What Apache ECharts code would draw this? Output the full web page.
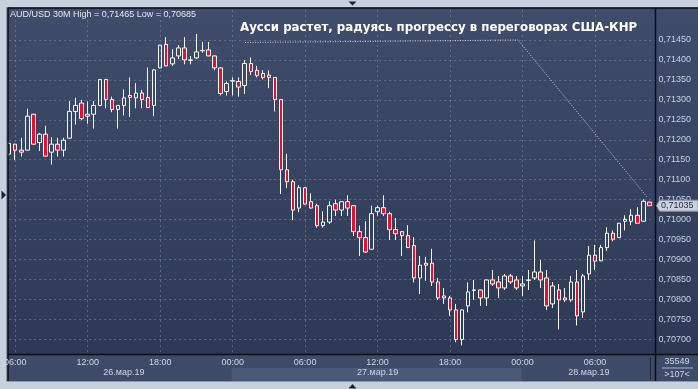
<!DOCTYPE html>
<html><head><meta charset="utf-8">
<script src="https://cdn.jsdelivr.net/npm/echarts@6/dist/echarts.min.js"></script>
<style>html,body{margin:0;padding:0;background:#c6d1dd}#c{width:698px;height:389px}</style>
</head><body><div id="c"></div>
<script>
// ---------------- data ----------------
const symbolTitle = 'AUD/USD 30M';
const annotation = 'Аусси растет, радуясь прогрессу в переговорах США-КНР';
const open = [0.71164,0.71189,0.71174,0.71174,0.71264,0.71193,0.71214,0.71169,0.71189,0.71174,
0.71204,0.71271,0.71292,0.71259,0.71264,0.71286,0.71351,0.71301,0.71276,0.71286,
0.71311,0.71305,0.71317,0.71306,0.71286,0.71380,0.71439,0.71390,0.71410,0.71430,
0.71399,0.71405,0.71423,0.71425,0.71410,0.71380,0.71321,0.71347,0.71346,0.71336,
0.71391,0.71374,0.71366,0.71362,0.71356,0.71301,0.71125,0.71095,0.71029,0.71080,
0.71045,0.71035,0.70985,0.70994,0.71040,0.71024,0.71045,0.71035,0.70970,0.70955,
0.70926,0.71020,0.71030,0.71015,0.70975,0.70970,0.70960,0.70935,0.70854,0.70891,
0.70891,0.70844,0.70809,0.70804,0.70774,0.70700,0.70784,0.70823,0.70824,0.70804,
0.70849,0.70844,0.70829,0.70859,0.70849,0.70834,0.70848,0.70854,0.70869,0.70854,
0.70789,0.70824,0.70804,0.70799,0.70844,0.70769,0.70864,0.70911,0.70897,0.70930,
0.70966,0.70955,0.70996,0.70996,0.71011,0.70996,0.71044];
const close = [0.71191,0.71174,0.71169,0.71259,0.71189,0.71214,0.71159,0.71189,0.71174,0.71199,
0.71271,0.71286,0.71253,0.71264,0.71286,0.71351,0.71301,0.71276,0.71286,0.71305,
0.71306,0.71317,0.71301,0.71281,0.71375,0.71437,0.71385,0.71405,0.71430,0.71400,
0.71400,0.71420,0.71424,0.71410,0.71380,0.71316,0.71341,0.71348,0.71332,0.71391,
0.71371,0.71361,0.71356,0.71356,0.71301,0.71125,0.71095,0.71024,0.71080,0.71039,
0.71029,0.70985,0.70994,0.71035,0.71024,0.71045,0.71029,0.70970,0.70955,0.70919,
0.71015,0.71030,0.71015,0.70975,0.70965,0.70960,0.70930,0.70854,0.70886,0.70886,
0.70844,0.70804,0.70804,0.70774,0.70700,0.70774,0.70819,0.70824,0.70804,0.70849,
0.70839,0.70829,0.70859,0.70844,0.70829,0.70839,0.70849,0.70869,0.70849,0.70784,
0.70834,0.70799,0.70799,0.70844,0.70759,0.70859,0.70911,0.70896,0.70930,0.70966,
0.70951,0.70991,0.71001,0.71011,0.70991,0.71046,0.71035];
const low = [0.71160,0.71149,0.71158,0.71172,0.71188,0.71172,0.71158,0.71138,0.71158,0.71158,
0.71203,0.71238,0.71249,0.71240,0.71228,0.71285,0.71279,0.71269,0.71228,0.71261,
0.71257,0.71279,0.71279,0.71279,0.71259,0.71379,0.71384,0.71385,0.71402,0.71389,
0.71389,0.71402,0.71418,0.71409,0.71374,0.71311,0.71311,0.71311,0.71308,0.71315,
0.71362,0.71356,0.71351,0.71329,0.71271,0.71064,0.71079,0.70999,0.71019,0.71038,
0.71028,0.70980,0.70980,0.70989,0.71009,0.71009,0.71009,0.70959,0.70909,0.70917,
0.70925,0.71010,0.71009,0.70949,0.70949,0.70909,0.70929,0.70843,0.70814,0.70847,
0.70834,0.70799,0.70789,0.70759,0.70693,0.70685,0.70768,0.70799,0.70784,0.70784,
0.70834,0.70804,0.70824,0.70839,0.70824,0.70809,0.70824,0.70849,0.70829,0.70774,
0.70779,0.70725,0.70794,0.70794,0.70735,0.70754,0.70849,0.70874,0.70896,0.70922,
0.70946,0.70954,0.70973,0.70986,0.70990,0.70995,0.71034];
const high = [0.71195,0.71190,0.71205,0.71278,0.71265,0.71217,0.71235,0.71206,0.71205,0.71205,
0.71297,0.71305,0.71300,0.71296,0.71297,0.71352,0.71352,0.71308,0.71287,0.71326,
0.71356,0.71342,0.71325,0.71381,0.71376,0.71438,0.71457,0.71427,0.71437,0.71457,
0.71410,0.71465,0.71445,0.71445,0.71411,0.71381,0.71346,0.71356,0.71356,0.71400,
0.71406,0.71385,0.71374,0.71374,0.71357,0.71302,0.71165,0.71100,0.71086,0.71081,
0.71066,0.71040,0.71021,0.71046,0.71050,0.71046,0.71061,0.71036,0.70985,0.70996,
0.71035,0.71035,0.71061,0.71020,0.71004,0.70971,0.70986,0.70956,0.70909,0.70907,
0.70927,0.70854,0.70829,0.70809,0.70789,0.70775,0.70843,0.70849,0.70825,0.70850,
0.70874,0.70859,0.70864,0.70864,0.70859,0.70859,0.70874,0.70948,0.70899,0.70874,
0.70844,0.70839,0.70829,0.70859,0.70874,0.70864,0.70934,0.70937,0.70937,0.70981,
0.70973,0.70992,0.71011,0.71026,0.71031,0.71051,0.71045];
const timeTickHours = ['00:00','06:00','12:00','18:00'];
const dateLabels = {'26 15:00':'26.мар.19','27 12:00':'27.мар.19','28 05:30':'28.мар.19'};
const highlightDay = {from:'27 00:00', to:'28 00:00'};
const cornerCount = '35549';
const yMin = 0.7065, yMax = 0.7155, yStep = 0.0005;
const yLabelMin = 0.70700, yLabelMax = 0.71450;

// categories: 30-minute bars from 26 Mar 05:30 (one spare slot at the end)
const categories = [];
for (let k = 0; k < open.length + 1; k++) {
  const t = 5*60 + 30 + k*30;
  const d = 26 + Math.floor(t/1440), m = t % 1440;
  categories.push(d + ' ' + String(Math.floor(m/60)).padStart(2,'0') + ':' + String(m%60).padStart(2,'0'));
}
const ohlc = open.map((o,i) => [o, close[i], low[i], high[i]]);
const fmt = v => v.toFixed(5).replace('.', ',');
const FONT = '"Liberation Sans", Arial, sans-serif';

// split line colours (hide lines outside the labelled range)
const nTicks = Math.round((yMax - yMin)/yStep) + 1;
const gridColor = 'rgba(125,140,170,0.55)';
const yLineColors = [];
for (let k = 0; k < nTicks; k++) {
  const v = yMin + k*yStep;
  yLineColors.push(v >= yLabelMin - 1e-6 && v <= yLabelMax + 1e-6 ? gridColor : 'rgba(0,0,0,0)');
}
const isTimeTick = (i, v) => timeTickHours.indexOf(String(v).slice(3)) >= 0;

const chart = echarts.init(document.getElementById('c'), null, {renderer:'canvas'});
const gridTop = 37.3 - (yMax - yLabelMax)/yStep*20.133;
const gridBottomY = 339.3 + (yLabelMin - yMin)/yStep*20.133;
chart.setOption({
  animation: false,
  backgroundColor: new echarts.graphic.LinearGradient(0,0,0,1,[{offset:0,color:'#404d6b'},{offset:1,color:'#2b3752'}]),
  grid: {left: 9.2, right: 42.6, top: gridTop, bottom: 389 - gridBottomY, containLabel: false},
  xAxis: [
    {type:'category', data: categories, boundaryGap:false, z:0,
     axisLine:{show:false}, axisTick:{show:false}, axisLabel:{show:false},
     splitLine:{show:true, interval:isTimeTick, lineStyle:{color:gridColor, type:[2,3], width:1}}},
    {type:'category', data: categories, boundaryGap:false, position:'bottom', offset:-5, z:60,
     axisLine:{show:false}, axisTick:{show:false}, splitLine:{show:false},
     axisLabel:{show:true, interval:isTimeTick, margin:3.5, fontSize:9, fontFamily:FONT, color:'#ccd6e6',
       formatter: v => String(v).slice(3)}},
    {type:'category', data: categories, boundaryGap:false, position:'bottom', offset:-5, z:60,
     axisLine:{show:false}, axisTick:{show:false}, splitLine:{show:false},
     axisLabel:{show:true, interval:(i,v) => v in dateLabels, margin:13.5, fontSize:9, fontFamily:FONT, color:'#ccd6e6',
       formatter: v => dateLabels[v] || ''}}
  ],
  yAxis: [{type:'value', position:'right', min:yMin, max:yMax, interval:yStep, scale:true, z:0,
    axisLine:{show:false}, axisTick:{show:false},
    axisLabel:{margin:3, fontSize:9, fontFamily:FONT, color:'#c5d1e3',
      formatter: v => (v < yLabelMin - 1e-6 || v > yLabelMax + 1e-6) ? '' : fmt(v)},
    splitLine:{show:true, lineStyle:{color:yLineColors, type:[2,3], width:1}}}],
  series: [{type:'candlestick', xAxisIndex:0, yAxisIndex:0, data: ohlc, barWidth:4,
    itemStyle:{color:'rgba(0,0,0,0)', color0:'#e3112e', borderColor:'#f4f6f8', borderColor0:'#f4f6f8', borderWidth:1}}]
});

// ---------- chrome drawn around the plot ----------
const W = 698, H = 389;
const frame = '#c6d1dd', line = '#0b0e16';
const xDayFrom = chart.convertToPixel({xAxisIndex:0}, highlightDay.from) - 1;
const xDayTo = chart.convertToPixel({xAxisIndex:0}, highlightDay.to) - 1;
const lastClose = close[close.length - 1];
const yLast = chart.convertToPixel({yAxisIndex:0}, lastClose);
const hi = Math.max.apply(null, high), lo = Math.min.apply(null, low);
const g = [];
const Z = 50;
// bottom axis band
g.push({type:'rect', z:Z, shape:{x:8, y:354, width:W-8, height:27}, style:{fill:'#3e4b68'}});
g.push({type:'rect', z:Z, shape:{x:xDayFrom, y:368, width:xDayTo-xDayFrom, height:13}, style:{fill:'#4b5979'}});
g.push({type:'line', z:Z, shape:{x1:650.5, y1:357, x2:650.5, y2:380}, style:{stroke:'#232a3b', lineWidth:1}});
// frames
g.push({type:'rect', z:Z, shape:{x:0, y:0, width:W, height:7.5}, style:{fill:frame}});
g.push({type:'rect', z:Z, shape:{x:0, y:0, width:7.5, height:H}, style:{fill:frame}});
g.push({type:'rect', z:Z, shape:{x:0, y:381, width:W, height:8}, style:{fill:frame}});
g.push({type:'line', z:Z, shape:{x1:6.5, y1:7, x2:6.5, y2:382}, style:{stroke:'#8d99aa', lineWidth:1}});
g.push({type:'line', z:Z, shape:{x1:6.5, y1:381.5, x2:W, y2:381.5}, style:{stroke:'#8d99aa', lineWidth:1}});
g.push({type:'polygon', z:Z, shape:{points:[[348.5,1.5],[356.5,1.5],[352.5,5.5]]}, style:{fill:'#1b2233'}});
g.push({type:'polygon', z:Z, shape:{points:[[348.5,388.5],[356.5,388.5],[352.5,384]]}, style:{fill:'#1b2233'}});
g.push({type:'polygon', z:Z, shape:{points:[[1.5,190.5],[1.5,199.5],[6,195]]}, style:{fill:'#1b2233'}});
// black borders
g.push({type:'line', z:Z+1, shape:{x1:8, y1:7.5, x2:8, y2:381}, style:{stroke:line, lineWidth:1.5}});
g.push({type:'line', z:Z+1, shape:{x1:8, y1:8, x2:W, y2:8}, style:{stroke:line, lineWidth:1.5}});
g.push({type:'line', z:Z+1, shape:{x1:655.5, y1:8, x2:655.5, y2:381}, style:{stroke:line, lineWidth:1.5}});
g.push({type:'line', z:Z+1, shape:{x1:8, y1:354.5, x2:W, y2:354.5}, style:{stroke:line, lineWidth:1.5}});
// corner box
g.push({type:'text', z:Z+2, style:{x:677, y:362, text:cornerCount, fill:'#ccd6e6', font:'9px '+FONT, align:'center', verticalAlign:'middle'}});
g.push({type:'line', z:Z+2, shape:{x1:662, y1:368, x2:693, y2:368}, style:{stroke:'#aab4c4', lineWidth:1}});
g.push({type:'text', z:Z+2, style:{x:677, y:374.5, text:'>' + open.length + '<', fill:'#ccd6e6', font:'9px '+FONT, align:'center', verticalAlign:'middle'}});
// title
g.push({type:'text', z:Z+2, style:{x:10, y:15, text:symbolTitle + ' High = ' + fmt(hi) + ' Low = ' + fmt(lo), fill:'#e2e8f0', font:'9px '+FONT, verticalAlign:'middle'}});
// annotation
g.push({type:'text', z:Z+2, style:{x:240, y:27.5, text:annotation, fill:'#ffffff', font:'bold 11.8px "DejaVu Sans", sans-serif', verticalAlign:'middle'}});
g.push({type:'polyline', z:Z+2, shape:{points:[[245,42.5],[518,40],[647,197]]}, style:{stroke:'rgba(225,229,236,0.85)', lineWidth:1, lineDash:[1,1.5], fill:null}});
// last price marker
g.push({type:'polygon', z:Z+3, shape:{points:[[656.5,yLast],[659.5,yLast-5.5],[698,yLast-5.5],[698,yLast+5.5],[659.5,yLast+5.5]]}, style:{fill:'#cbd2db', stroke:'#8793a4', lineWidth:1}});
g.push({type:'text', z:Z+4, style:{x:661, y:yLast, text:fmt(lastClose), fill:'#1d2640', font:'9px '+FONT, verticalAlign:'middle'}});
chart.setOption({graphic: g});
</script>
</body></html>
